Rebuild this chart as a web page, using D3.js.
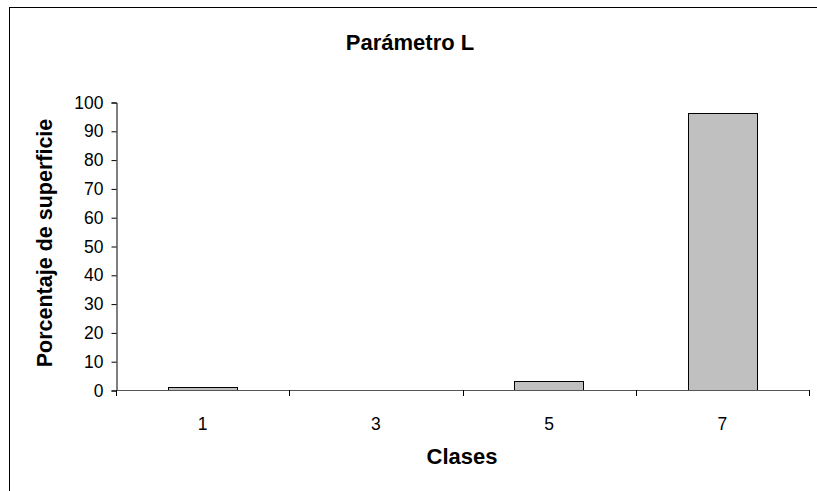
<!DOCTYPE html>
<html>
<head>
<meta charset="utf-8">
<script src="https://cdn.jsdelivr.net/npm/d3@7"></script>
<style>
  body { margin: 0; background: #fff; }
  svg { display: block; font-family: "Liberation Sans", Arial, sans-serif; }
</style>
</head>
<body>
<svg id="chart" width="817" height="491"></svg>
<script>
// Percentage of surface per class for parameter L
const categories = ["1", "3", "5", "7"];
const values = [0.9, 0, 3.2, 96.1];
const yTicks = [0, 10, 20, 30, 40, 50, 60, 70, 80, 90, 100];

const svg = d3.select("#chart");
const plot = { left: 116, right: 809, top: 102, bottom: 390 };

// outer chart frame
svg.append("rect")
  .attr("x", 9.5).attr("y", 7.5)
  .attr("width", 830).attr("height", 500)
  .attr("fill", "#fff").attr("stroke", "#000").attr("stroke-width", 1);

const x = d3.scaleBand()
  .domain(categories)
  .range([plot.left, plot.right])
  .paddingInner(0.6).paddingOuter(0.3);

const y = d3.scaleLinear().domain([0, 100]).range([plot.bottom, plot.top]);

// bars
svg.append("g").selectAll("rect")
  .data(categories.map((c, i) => ({ c, v: values[i] })))
  .join("rect")
  .attr("x", d => Math.round(x(d.c)) + 0.5)
  .attr("y", d => Math.round(y(d.v)) + 0.5)
  .attr("width", Math.round(x.bandwidth()))
  .attr("height", d => Math.max(0, Math.round(y(0)) - Math.round(y(d.v))))
  .attr("fill", "#c0c0c0")
  .attr("stroke", "#000")
  .attr("stroke-width", 1)
  .attr("display", d => d.v > 0 ? null : "none");

// y axis
const yAxis = d3.axisLeft(y).tickValues(yTicks).tickSize(5).tickPadding(8);
const gy = svg.append("g")
  .attr("transform", `translate(${plot.left + 0.5},0.5)`)
  .call(yAxis);
gy.selectAll("text").attr("font-size", 17.5).attr("fill", "#000")
  .attr("font-family", "'Liberation Sans', Arial, sans-serif");
gy.selectAll("line, path").attr("stroke", "#000");

// x axis: line with ticks on the category boundaries
const gx = svg.append("g");
gx.append("line")
  .attr("x1", plot.left).attr("x2", plot.right)
  .attr("y1", plot.bottom + 0.5).attr("y2", plot.bottom + 0.5)
  .attr("stroke", "#555");
const bounds = d3.range(categories.length + 1).map(i => plot.left + i * (plot.right - plot.left) / categories.length);
gx.selectAll("line.tick")
  .data(bounds)
  .join("line")
  .attr("class", "tick")
  .attr("x1", d => Math.round(d) + 0.5).attr("x2", d => Math.round(d) + 0.5)
  .attr("y1", plot.bottom).attr("y2", plot.bottom + 6)
  .attr("stroke", "#000");
gx.selectAll("text")
  .data(categories)
  .join("text")
  .attr("x", d => x(d) + x.bandwidth() / 2)
  .attr("y", 430)
  .attr("text-anchor", "middle")
  .attr("font-size", 17.5)
  .text(d => d);

// titles
svg.append("text")
  .attr("x", 410).attr("y", 50)
  .attr("text-anchor", "middle")
  .attr("font-size", 22).attr("font-weight", "bold")
  .text("Parámetro L");

svg.append("text")
  .attr("x", 462).attr("y", 464)
  .attr("text-anchor", "middle")
  .attr("font-size", 22).attr("font-weight", "bold")
  .text("Clases");

svg.append("text")
  .attr("transform", `translate(52,243) rotate(-90)`)
  .attr("text-anchor", "middle")
  .attr("font-size", 21.5).attr("font-weight", "bold")
  .text("Porcentaje de superficie");
</script>
</body>
</html>
